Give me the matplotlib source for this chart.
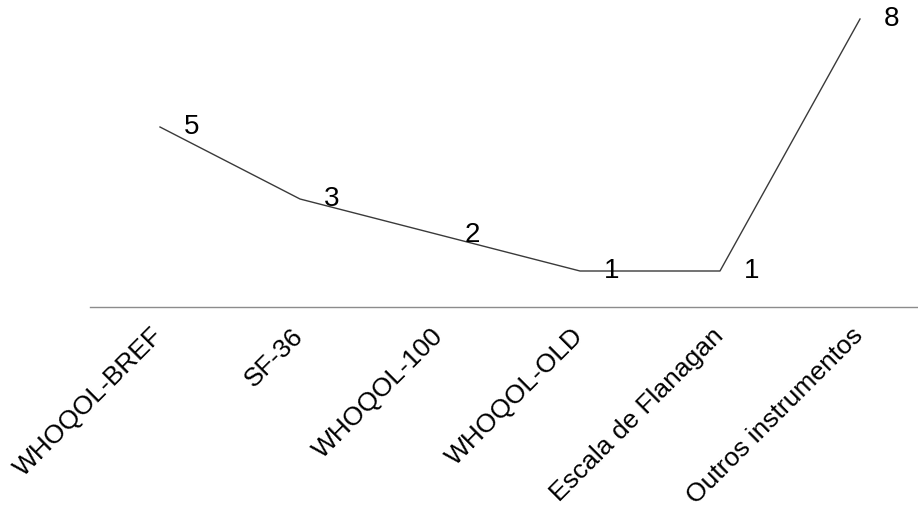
import matplotlib.pyplot as plt
from matplotlib.transforms import ScaledTranslation

# Dados
categorias = ["WHOQOL-BREF", "SF-36", "WHOQOL-100", "WHOQOL-OLD",
              "Escala de Flanagan", "Outros instrumentos"]
valores = [5, 3, 2, 1, 1, 8]

plt.rcParams['font.family'] = ['Liberation Sans', 'DejaVu Sans']

fig = plt.figure(figsize=(9.18, 5.08), dpi=100)
ax = fig.add_axes([90 / 918, 201 / 508, 840 / 918, 306 / 508])

x = list(range(len(categorias)))
ax.plot(x, valores, color="#3a3a3a", linewidth=1.0)

for xi, v in zip(x, valores):
    ax.annotate(str(v), (xi, v), xytext=(23, 0), textcoords="offset points",
                ha="center", va="center", fontsize=20, color="black")

ax.set_xlim(-0.5, 5.5)
ax.set_ylim(0, 8.5)
ax.set_xticks(x)
ax.set_xticklabels(categorias, rotation=45, ha="right", va="top",
                   rotation_mode="anchor", fontsize=19)
ax.tick_params(axis="x", length=0, pad=12)
ax.set_yticks([])

# desloca um pouco os rótulos para a esquerda
desloc = ScaledTranslation(-9 / 100, 0, fig.dpi_scale_trans)
for lbl in ax.get_xticklabels():
    lbl.set_transform(lbl.get_transform() + desloc)

for s in ["top", "right", "left"]:
    ax.spines[s].set_visible(False)
ax.spines["bottom"].set_color("#8c8c8c")
ax.spines["bottom"].set_linewidth(1.0)

fig.savefig("out.png", dpi=100)
